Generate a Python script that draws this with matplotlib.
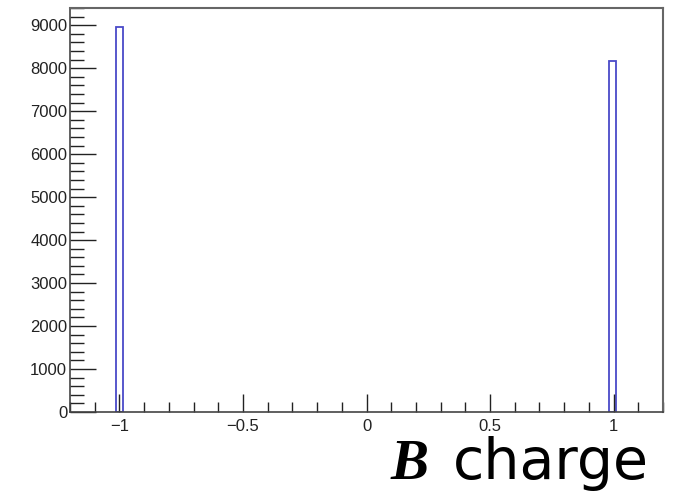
import matplotlib
matplotlib.use("Agg")
import matplotlib.pyplot as plt
from matplotlib.ticker import MultipleLocator, FixedLocator

# Data
bin_centers = [-1.0, 0.996]
counts = [8960, 8160]
bin_width = 0.028
xtick_vals = [-1, -0.5, 0, 0.5, 1]
xtick_labels = ["\u22121", "\u22120.5", "0", "0.5", "1"]
ytick_vals = [0, 1000, 2000, 3000, 4000, 5000, 6000, 7000, 8000, 9000]

fig = plt.figure(figsize=(6.81, 5.03), dpi=100)
ax = fig.add_axes([0.1028, 0.1809, 0.9736 - 0.1028, 0.984 - 0.1809])

for c, h in zip(bin_centers, counts):
    ax.bar(c, h, width=bin_width, fill=False, edgecolor="#4a4ac8", linewidth=1.3, align="center")

ax.set_xlim(-1.2, 1.2)
ax.set_ylim(0, 9400)

ax.xaxis.set_major_locator(FixedLocator(xtick_vals))
ax.set_xticklabels(xtick_labels)
ax.xaxis.set_minor_locator(MultipleLocator(0.1))
ax.yaxis.set_major_locator(FixedLocator(ytick_vals))
ax.yaxis.set_minor_locator(MultipleLocator(200))

ax.tick_params(axis="x", which="major", direction="in", length=13, width=1.0, color="#222222",
               labelsize=12, pad=5, top=False)
ax.tick_params(axis="x", which="minor", direction="in", length=7, width=1.0, color="#222222", top=False)
ax.tick_params(axis="y", which="major", direction="in", length=19, width=1.0, color="#222222",
               labelsize=12, pad=2, right=False)
ax.tick_params(axis="y", which="minor", direction="in", length=10, width=1.0, color="#222222", right=False)

for lbl in ax.get_xticklabels() + ax.get_yticklabels():
    lbl.set_fontfamily("Liberation Sans")
    lbl.set_color("#222222")

for side in ["left", "bottom"]:
    ax.spines[side].set_color("#444444")
    ax.spines[side].set_linewidth(1.2)
for side in ["top", "right"]:
    ax.spines[side].set_color("#666666")
    ax.spines[side].set_linewidth(1.5)

# Axis title: italic serif B + sans "charge"
fig.text(391 / 681, 0.0477, "B", fontsize=41, family="Liberation Serif", style="italic",
         fontweight="bold", ha="left", va="baseline", color="black")
fig.text(453 / 681, 0.0477, "charge", fontsize=41, family="DejaVu Sans", ha="left", va="baseline",
         color="black")

fig.savefig("out.png", dpi=100)
